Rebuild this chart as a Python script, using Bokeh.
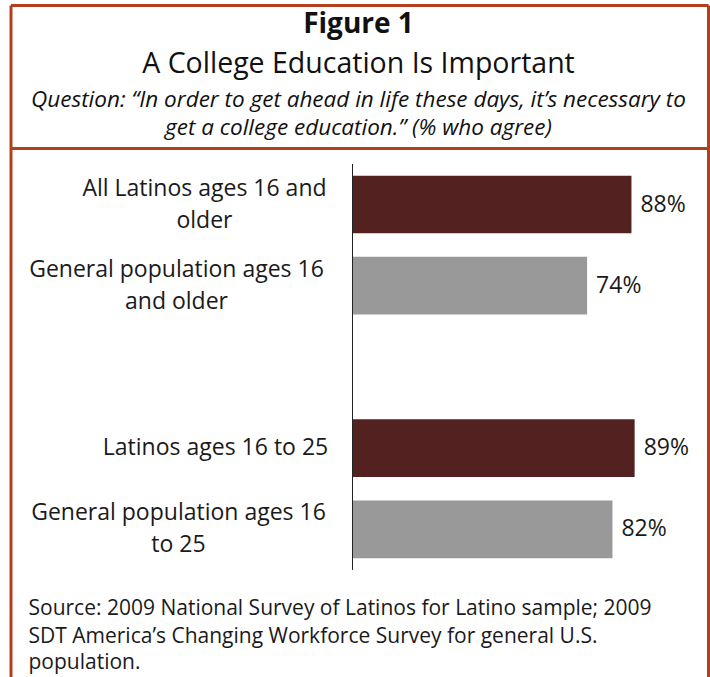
from bokeh.plotting import figure
from bokeh.models import Range1d, ColumnDataSource
from bokeh.core.properties import value
from bokeh.embed import file_html
from bokeh.resources import INLINE

# ---- data ----
categories = [
    "All Latinos ages 16 and\nolder",
    "General population ages 16\nand older",
    "Latinos ages 16 to 25",
    "General population ages 16\nto 25",
]
agree_pct = [88, 74, 89, 82]
group = ["Latino", "General", "Latino", "General"]
value_labels = ["88%", "74%", "89%", "82%"]

title_main = "Figure 1"
title_sub = "A College Education Is Important"
question_lines = [
    "Question: \u201cIn order to get ahead in life these days, it\u2019s necessary to",
    "get a college education.\u201d (% who agree)",
]
source_lines = [
    "Source: 2009 National Survey of Latinos for Latino sample; 2009",
    "SDT America\u2019s Changing Workforce Survey for general U.S.",
    "population.",
]

# ---- styles ----
FONT = "Open Sans"
BORDER = "#b3401c"
colors = {"Latino": "#532220", "General": "#999999"}

W, H = 710, 677
PX_PER_PCT = 3.17
AXIS_X = 352.0      # screen x of 0 %
SLOT = 81.2         # px per category slot
FIRST_Y = 204.0     # screen y of first category centre

# positions: two groups of two bars with one empty slot between groups
ypos = [i + (i // 2) for i in range(len(categories))]

x_start = (0 - AXIS_X) / PX_PER_PCT
x_end = (W - AXIS_X) / PX_PER_PCT
y_top = (0 - FIRST_Y) / SLOT
y_bot = (H - FIRST_Y) / SLOT

p = figure(width=W, height=H, output_backend="svg", toolbar_location=None,
           x_range=Range1d(x_start, x_end), y_range=Range1d(y_bot, y_top),
           x_axis_type=None, y_axis_type=None, min_border=0)
p.extra_x_ranges = {"px": Range1d(0, W)}
p.extra_y_ranges = {"px": Range1d(H, 0)}
p.outline_line_color = None
p.grid.visible = False
p.background_fill_color = "white"
p.border_fill_color = "white"

# ---- frame borders ----
bx0, bx1, by0 = 10.5, 708.0, 5.0
p.segment(x0=[bx0, bx0, bx1, bx0], y0=[by0, 148, by0, by0],
          x1=[bx1, bx1, bx1, bx0], y1=[by0, 148, 700, 700],
          line_color=BORDER, line_width=3,
          x_range_name="px", y_range_name="px")

# ---- bars ----
src = ColumnDataSource(dict(
    y=ypos, v=agree_pct, cat=categories, lab=value_labels,
    color=[colors[g] for g in group],
    offs=[-148, -176, -137, -174],
))
p.hbar(y="y", left=0, right="v", height=0.71, fill_color="color",
       line_color=None, source=src)

# axis line
p.segment(x0=[0], y0=[-0.5], x1=[0], y1=[max(ypos) + 0.5],
          line_color="#222222", line_width=1)

# category labels
p.text(x=0, y="y", text="cat", x_offset="offs", y_offset=-2, source=src,
       text_align="center", text_baseline="middle",
       text_font=value(FONT), text_font_size="23px", text_color="#1a1a1a",
       text_line_height=1.0)

# value labels
p.text(x="v", y="y", text="lab", x_offset=9, y_offset=-2, source=src,
       text_align="left", text_baseline="middle",
       text_font=value(FONT), text_font_size="23px", text_color="#1a1a1a")

# ---- titles ----
cx = 358
p.text(x=[cx], y=[21], text=[title_main], text_align="center",
       text_baseline="alphabetic", text_font=value(FONT),
       text_font_style="bold", text_font_size="28px", text_color="#111111",
       x_range_name="px", y_range_name="px")
p.text(x=[cx], y=[61], text=[title_sub], text_align="center",
       text_baseline="alphabetic", text_font=value(FONT),
       text_font_size="28.5px", text_color="#111111",
       x_range_name="px", y_range_name="px")
p.text(x=[cx, cx], y=[98, 126], text=question_lines, text_align="center",
       text_baseline="alphabetic", text_font=value(FONT),
       text_font_style="italic", text_font_size="22.5px", text_color="#111111",
       x_range_name="px", y_range_name="px")

# ---- source ----
p.text(x=[28, 28, 28], y=[606, 634, 660], text=source_lines, text_align="left",
       text_baseline="alphabetic", text_font=value(FONT),
       text_font_size="21px", text_color="#1a1a1a",
       x_range_name="px", y_range_name="px")

open("out.html", "w").write(file_html(p, INLINE))
